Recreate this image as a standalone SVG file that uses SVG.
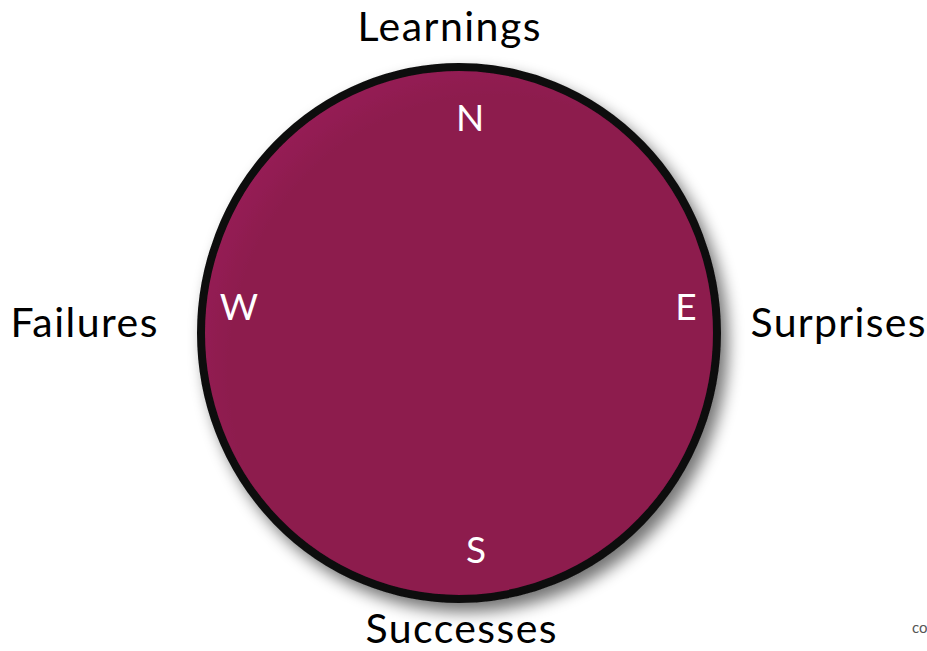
<svg xmlns="http://www.w3.org/2000/svg" width="927" height="651" viewBox="0 0 927 651">
<defs>
<filter id="sh" x="-20%" y="-20%" width="140%" height="140%">
<feGaussianBlur in="SourceAlpha" stdDeviation="8"/>
<feOffset dx="7" dy="9" result="b"/>
<feComponentTransfer><feFuncA type="linear" slope="0.55"/></feComponentTransfer>
<feMerge><feMergeNode/><feMergeNode in="SourceGraphic"/></feMerge>
</filter>
<radialGradient id="g" cx="0.57" cy="0.57" r="0.6">
<stop offset="0.86" stop-color="#8d1a4e"/>
<stop offset="1" stop-color="#961e55"/>
</radialGradient>
<style>
.lbl{font-family:Lato,"Noto Sans","Liberation Sans",sans-serif;font-size:41px;fill:#000;text-anchor:middle}
.dir{font-family:Lato,"Noto Sans","Liberation Sans",sans-serif;font-size:37px;fill:#fff;text-anchor:middle}
</style>
</defs>
<rect width="927" height="651" fill="#fff"/>
<g id="compass">
<ellipse cx="459" cy="333" rx="258" ry="266" fill="url(#g)" stroke="#0e0e0e" stroke-width="8" filter="url(#sh)"/>
</g>
<g id="N"><text class="dir" x="470" y="131">N</text></g>
<g id="W"><text class="dir" x="239" y="320">W</text></g>
<g id="E"><text class="dir" x="686" y="320">E</text></g>
<g id="S"><text class="dir" x="476" y="563">S</text></g>
<g id="learnings"><text class="lbl" x="449" y="41" textLength="183">Learnings</text></g>
<g id="failures"><text class="lbl" x="84" y="337" textLength="147">Failures</text></g>
<g id="surprises"><text class="lbl" x="838" y="337" textLength="175">Surprises</text></g>
<g id="successes"><text class="lbl" x="461" y="643" textLength="191">Successes</text></g>
<g id="connectors"/>
<text x="912" y="633" font-family="Lato,'Liberation Sans',sans-serif" font-size="15" fill="#555">co</text>
</svg>
